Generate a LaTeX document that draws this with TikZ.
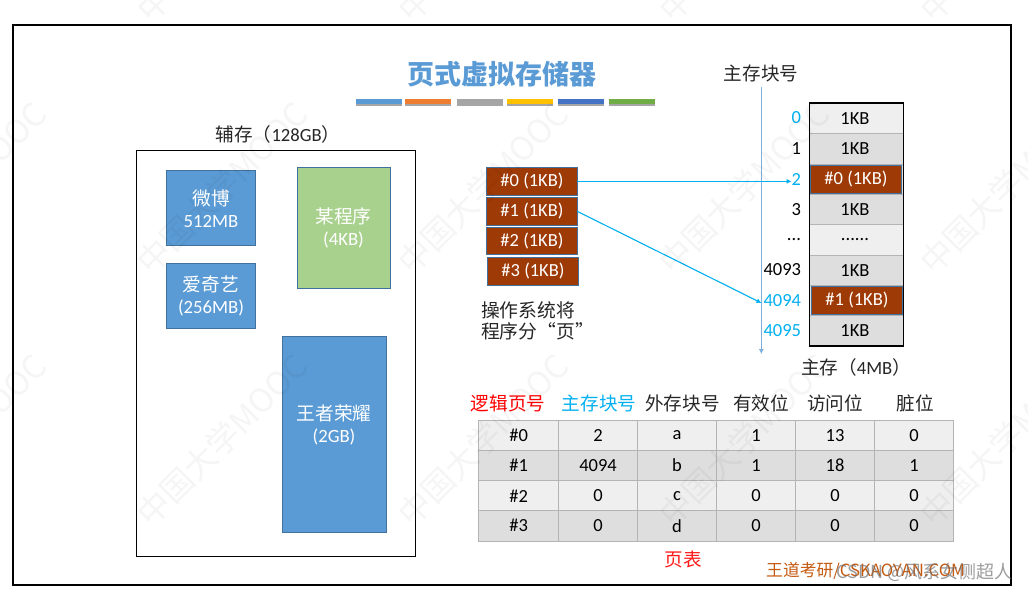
\documentclass[tikz,border=0pt]{standalone}
\usepackage{fontspec}
\setmainfont{Carlito}
\newfontfamily\cjk{Noto Sans CJK SC}
\usetikzlibrary{arrows.meta}
\definecolor{tblue}{HTML}{5B9BD5}
\definecolor{torange}{HTML}{ED7D31}
\definecolor{tgray}{HTML}{A5A5A5}
\definecolor{tyellow}{HTML}{FFC000}
\definecolor{tdblue}{HTML}{4472C4}
\definecolor{tgreen}{HTML}{70AD47}
\definecolor{lgreen}{HTML}{A9D18E}
\definecolor{rust}{HTML}{9E3A06}
\definecolor{edgeb}{HTML}{41719C}
\definecolor{cyanb}{HTML}{00B0F0}
\definecolor{rowa}{HTML}{EFEFEF}
\definecolor{rowb}{HTML}{DEDEDE}
\definecolor{cellline}{HTML}{B4B4B4}
\definecolor{txt}{HTML}{262626}
\definecolor{brand}{HTML}{C55A11}
\tikzset{
 x=1pt,y=-1pt,
 lbl/.style={inner sep=0pt,outer sep=0pt,font=\fontsize{18.6}{21}\selectfont,text=txt},
 num/.style={lbl,font=\fontsize{18.5}{20}\selectfont,text=black},
 prog/.style={draw=edgeb,line width=.8pt,outer sep=0pt,text=white,inner sep=0pt,align=center,font=\fontsize{18.7}{22}\selectfont},
 pagebox/.style={draw=edgeb,line width=1pt,outer sep=0pt,fill=rust,text=white,inner sep=0pt,font=\fontsize{18.5}{20}\selectfont},
 cella/.style={draw=cellline,line width=.8pt,outer sep=0pt,fill=rowa,inner sep=0pt,font=\fontsize{18.5}{20}\selectfont},
 cellb/.style={draw=cellline,line width=.8pt,outer sep=0pt,fill=rowb,inner sep=0pt,font=\fontsize{18.5}{20}\selectfont},
 link/.style={cyanb,line width=1.1pt,-{Latex[length=5pt,width=5pt]}},
 wm/.style={rotate=45,text=black,opacity=.04,inner sep=0pt,font=\cjk\fontsize{32.5}{35}\selectfont},
}
\newcommand{\boxat}[6]{\node[#1,minimum width=#4pt,minimum height=#5pt,anchor=north west] (#2) at #3 {#6};}
\newcommand{\threedots}{.\kern0pt.\kern0pt.}
\newcommand{\sixdots}{\threedots\threedots}
\begin{document}
\begin{tikzpicture}
\useasboundingbox (0,0) rectangle (1028,592);
\fill[white] (0,0) rectangle (1028,592);
\draw[black,line width=2pt] (13,25) rectangle (1011,585);
% title
\node[inner sep=0pt,text=tblue,font=\cjk\bfseries\fontsize{27}{30}\selectfont] (title) at (502,74) {页式虚拟存储器};
\foreach \xa/\xb/\col in {356/402/tblue,405/451/torange,457/503/tgray,507/553/tyellow,558/604/tdblue,609/655/tgreen}{
  \fill[black!35] (\xa,100) rectangle (\xb,105.5);
  \fill[\col] (\xa,99) rectangle (\xb,104);
}
% secondary storage
\node[lbl] (auxl) at (278,134) {\cjk 辅存（\rmfamily 128GB\cjk ）};
\draw[black,line width=.8pt] (136.5,150.5) rectangle (415,556);
\boxat{prog,fill=tblue}{wb}{(166.3,170.7)}{89.4}{75}{{\cjk 微博}\\512MB}
\boxat{prog,fill=tblue}{iq}{(166.3,263)}{89.4}{65.5}{{\cjk 爱奇艺}\\(256MB)}
\boxat{prog,fill=lgreen}{mp}{(297,167.7)}{93}{120.5}{\rule{0pt}{3pt}{\cjk 某程序}\\(4KB)}
\boxat{prog,fill=tblue}{wz}{(282,336.7)}{104}{196}{{\cjk 王者荣耀}\\(2GB)\\{}}
% pages
\boxat{pagebox}{p0}{(486.7,167.7)}{90.6}{27.3}{\#0 (1KB)}
\boxat{pagebox}{p1}{(486.7,197.7)}{90.6}{27.3}{\#1 (1KB)}
\boxat{pagebox}{p2}{(486.7,227)}{90.6}{27.3}{\#2 (1KB)}
\boxat{pagebox}{p3}{(487.7,257.3)}{90.6}{27.7}{\#3 (1KB)}
\node[lbl,anchor=north west,align=left,font=\cjk\fontsize{18.8}{20.5}\selectfont] (oslbl) at (481,302) {操作系统将\\程序分“页”};
% main memory
\node[lbl] (mml) at (761,73) {\cjk 主存块号};
\coordinate (axt) at (761.3,87);
\coordinate (axb) at (761.3,354);
\draw[tblue!80,line width=.8pt,-{Latex[length=5pt,width=5pt]}] (axt) -- (axb);
\fill[rowb] (809.5,103) rectangle (903.5,346);
\foreach \nm/\yy/\col/\tx in {m0/103/rowa/1KB,m1/133.5/rowb/1KB,m3/194/rowb/1KB,m4/224.5/rowa/\sixdots,m5/255/rowb/1KB,m7/315.5/rowb/1KB}{
  \node[draw=cellline,line width=.8pt,outer sep=0pt,fill=\col,inner sep=0pt,font=\fontsize{18.5}{20}\selectfont,minimum width=94pt,minimum height=30.5pt,anchor=north west] (\nm) at (809.5,\yy) {\hspace*{-3pt}\tx};
}
\boxat{pagebox}{m2}{(810.5,165.5)}{91}{28}{\#0 (1KB)}
\boxat{pagebox}{m6}{(811.7,286.7)}{90.6}{27.5}{\#1 (1KB)}
\draw[black,line width=1.2pt] (809.5,103) rectangle (903.5,346);
\foreach \nm/\yy/\col/\tx in {n0/118/cyanb/0,n1/148.5/black/1,n2/179/cyanb/2,n3/209.5/black/3,n4/240/black/\threedots,n5/270/black/4093,n6/300.5/cyanb/4094,n7/330.5/cyanb/4095}{
  \node[num,text=\col,anchor=east] (\nm) at (801,\yy) {\tx};
}
\node[lbl] (mms) at (856,367) {\cjk 主存（\rmfamily 4MB\cjk ）};
\draw[link] (p0.east) -- (p0.east -| n2.west);
\draw[link] (p1.east) -- ([xshift=-2pt,yshift=-2.5pt]n6.west);
% table
\foreach \nm/\xx/\col/\tx in {h0/508/red/逻辑页号,h1/599/cyanb/主存块号,h2/682.5/txt/外存块号,h3/761/txt/有效位,h4/835/txt/访问位,h5/915.5/txt/脏位}{
  \node[lbl,text=\col,font=\cjk\fontsize{18.6}{21}\selectfont] (\nm) at (\xx,403) {\tx};
}
\foreach \rr/\yy/\st/\ca/\cb/\cc/\cd/\ce/\cf in {
 0/420/cella/\#0/2/a/1/13/0,
 1/450/cellb/\#1/4094/b/1/18/1,
 2/480.5/cella/\#2/0/c/0/0/0,
 3/510.5/cellb/\#3/0/d/0/0/0}{
  \boxat{\st}{t\rr a}{(478.7,\yy)}{79.8}{30.5}{\ca}
  \boxat{\st}{t\rr b}{(558.5,\yy)}{79}{30.5}{\cb}
  \boxat{\st}{t\rr c}{(637.5,\yy)}{79}{30.5}{\cc}
  \boxat{\st}{t\rr d}{(716.5,\yy)}{79}{30.5}{\cd}
  \boxat{\st}{t\rr e}{(795.5,\yy)}{79}{30.5}{\ce}
  \boxat{\st}{t\rr f}{(874.5,\yy)}{79}{30.5}{\cf}
}
\node[lbl,text=red!90!white,font=\cjk\fontsize{18.6}{21}\selectfont] (ptl) at (683,559) {页表};
% brand
\node[inner sep=0pt,anchor=west,text=brand,font=\cjk\fontsize{16.8}{18}\selectfont] (brandl) at (766,571) {王道考研/CSKAOYAN.COM};
\node[inner sep=0pt,anchor=east,text=black!55,opacity=.7,font=\cjk\fontsize{18}{20}\selectfont] (csdn) at (1013,572) {CSDN @风系女侧超人};
% watermarks
\foreach \yy in {-64,188,440}{
  \foreach \xx in {-39,222,483,744,1005}{
    \node[wm] at (\xx,\yy) {中国大学MOOC};
  }
}
\end{tikzpicture}
\end{document}
